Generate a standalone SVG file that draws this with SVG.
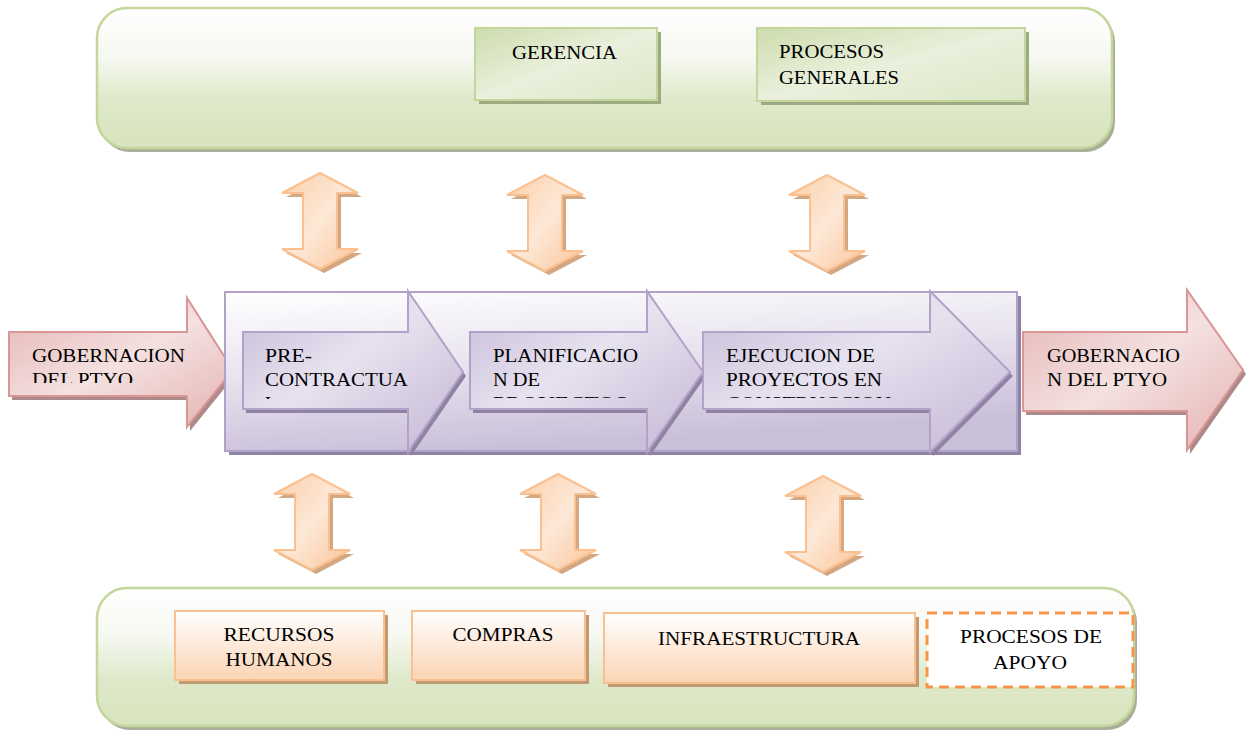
<svg xmlns="http://www.w3.org/2000/svg" width="1248" height="731" viewBox="0 0 1248 731">
<defs>
<style>
.t{font-family:"Liberation Serif","Times New Roman",Tinos,"DejaVu Serif",serif;font-size:18px;fill:#000}
.panel{stroke:#c3d69b;stroke-width:2.5}
.gbox{fill:url(#gBox);stroke:#c3d69b;stroke-width:2}
.gsh{fill:#9daa82}
.psh{fill:#a9ae99}
.obox{fill:url(#gOr);stroke:#fac090;stroke-width:2}
.osh{fill:#c29a72}
.pur{fill:url(#gPur);stroke:#b3a2c7;stroke-width:2}
.purO{fill:url(#gPurO);stroke:#b3a2c7;stroke-width:2}
.pursh{fill:#8f83a3}
.red{fill:url(#gRed);stroke:#d99694;stroke-width:2}
.redsh{fill:#ad8a89}
.da{fill:url(#gDA);stroke:#fac090;stroke-width:2}
.dash{fill:#d3a782}
</style>
<linearGradient id="gPanel" x1="0" y1="0" x2="0" y2="1">
<stop offset="0" stop-color="#ffffff"/><stop offset="0.35" stop-color="#f6f8f1"/><stop offset="0.65" stop-color="#dfe9ca"/><stop offset="1" stop-color="#d7e4bd"/>
</linearGradient>
<linearGradient id="gBox" x1="0" y1="0" x2="1" y2="1">
<stop offset="0" stop-color="#cddcae"/><stop offset="0.5" stop-color="#eaf0dc"/><stop offset="1" stop-color="#dce7c7"/>
</linearGradient>
<linearGradient id="gOr" x1="0" y1="0" x2="0" y2="1">
<stop offset="0" stop-color="#ffffff"/><stop offset="1" stop-color="#fbd4b4"/>
</linearGradient>
<linearGradient id="gPurO" x1="0" y1="0" x2="0.3" y2="1">
<stop offset="0" stop-color="#ffffff"/><stop offset="0.5" stop-color="#e8e3ef"/><stop offset="1" stop-color="#cabfd9"/>
</linearGradient>
<linearGradient id="gPur" x1="0" y1="0" x2="1" y2="1">
<stop offset="0" stop-color="#c6b9d7"/><stop offset="0.45" stop-color="#e7e2ef"/><stop offset="1" stop-color="#c3b6d4"/>
</linearGradient>
<linearGradient id="gRed" x1="0" y1="0" x2="1" y2="1">
<stop offset="0" stop-color="#e3b4b3"/><stop offset="0.5" stop-color="#f4e1e0"/><stop offset="1" stop-color="#e3b2b1"/>
</linearGradient>
<linearGradient id="gDA" x1="0" y1="0" x2="1" y2="1">
<stop offset="0" stop-color="#fbcfa8"/><stop offset="0.5" stop-color="#fde8d7"/><stop offset="1" stop-color="#fac59a"/>
</linearGradient>
<path id="dbl" d="M0,0 L38,20 L17,20 L17,76 L38,76 L0,96 L-38,76 L-17,76 L-17,20 L-38,20 Z"/>
<clipPath id="cL"><rect x="9" y="332" width="180" height="51"/></clipPath>
<clipPath id="cP1"><rect x="243" y="332" width="170" height="67"/></clipPath>
<clipPath id="cP2"><rect x="470" y="332" width="180" height="66"/></clipPath>
<clipPath id="cP3"><rect x="703" y="332" width="230" height="66"/></clipPath>
</defs>

<g id="panel-top">
<rect x="100" y="12" width="1015" height="140" rx="30" class="psh"/>
<rect x="97" y="8" width="1015" height="140" rx="30" fill="url(#gPanel)" class="panel"/>
</g>
<g id="panel-bottom">
<rect x="100" y="592" width="1037" height="138" rx="30" class="psh"/>
<rect x="97" y="588" width="1037" height="138" rx="30" fill="url(#gPanel)" class="panel"/>
</g>

<g id="gerencia">
<rect x="479" y="32" width="182" height="72" class="gsh"/>
<rect x="475" y="28" width="182" height="72" class="gbox"/>
<text class="t" x="512" y="59" textLength="105" lengthAdjust="spacingAndGlyphs">GERENCIA</text>
</g>
<g id="procesos-generales">
<rect x="761" y="32" width="268" height="73" class="gsh"/>
<rect x="757" y="28" width="268" height="73" class="gbox"/>
<text class="t" x="779" y="58" textLength="105" lengthAdjust="spacingAndGlyphs">PROCESOS</text>
<text class="t" x="779" y="84" textLength="120" lengthAdjust="spacingAndGlyphs">GENERALES</text>
</g>

<g id="recursos-humanos">
<rect x="179" y="615" width="209" height="69" class="osh"/>
<rect x="175" y="611" width="209" height="69" class="obox"/>
<text class="t" x="279" y="641" text-anchor="middle" textLength="111" lengthAdjust="spacingAndGlyphs">RECURSOS</text>
<text class="t" x="279" y="666" text-anchor="middle" textLength="107" lengthAdjust="spacingAndGlyphs">HUMANOS</text>
</g>
<g id="compras">
<rect x="416" y="615" width="173" height="69" class="osh"/>
<rect x="412" y="611" width="173" height="69" class="obox"/>
<text class="t" x="503" y="641" text-anchor="middle" textLength="101" lengthAdjust="spacingAndGlyphs">COMPRAS</text>
</g>
<g id="infraestructura">
<rect x="608" y="617" width="311" height="70" class="osh"/>
<rect x="604" y="613" width="311" height="70" class="obox"/>
<text class="t" x="759" y="645" text-anchor="middle" textLength="202" lengthAdjust="spacingAndGlyphs">INFRAESTRUCTURA</text>
</g>
<g id="procesos-apoyo">
<rect x="927" y="613" width="206" height="74" fill="#ffffff" stroke="#f79646" stroke-width="3" stroke-dasharray="10,6"/>
<text class="t" x="1031" y="643" text-anchor="middle" textLength="142" lengthAdjust="spacingAndGlyphs">PROCESOS DE</text>
<text class="t" x="1030" y="669" text-anchor="middle" textLength="74" lengthAdjust="spacingAndGlyphs">APOYO</text>
</g>

<g id="gobernacion-in">
<polygon points="12,336 190,336 190,302 236,374 190,431 190,400 12,400" class="redsh"/>
<polygon points="9,332 187,332 187,298 233,370 187,427 187,396 9,396" class="red"/>
<g clip-path="url(#cL)">
<text class="t" x="32" y="362" textLength="153" lengthAdjust="spacingAndGlyphs">GOBERNACION</text>
<text class="t" x="32" y="386" textLength="101" lengthAdjust="spacingAndGlyphs">DEL PTYO</text>
</g>
</g>

<g id="proceso-frame">
<rect x="229" y="296" width="792" height="159" class="pursh"/>
<rect x="225" y="292" width="792" height="159" class="purO"/>
</g>
<g id="precontractual">
<polygon points="246,336 411,336 411,295 466,376 411,456 411,413 246,413" class="pursh"/>
<polygon points="243,332 408,332 408,291 463,372 408,452 408,409 243,409" class="pur"/>
<g clip-path="url(#cP1)">
<text class="t" x="265" y="362" textLength="47" lengthAdjust="spacingAndGlyphs">PRE-</text>
<text class="t" x="265" y="386" textLength="143" lengthAdjust="spacingAndGlyphs">CONTRACTUA</text>
<text class="t" x="265" y="410">L</text>
</g>
</g>
<g id="planificacion">
<polygon points="473,336 650,336 650,295 706,376 650,456 650,413 473,413" class="pursh"/>
<polygon points="470,332 647,332 647,291 703,372 647,452 647,409 470,409" class="pur"/>
<g clip-path="url(#cP2)">
<text class="t" x="493" y="362" textLength="145" lengthAdjust="spacingAndGlyphs">PLANIFICACIO</text>
<text class="t" x="493" y="386" textLength="47" lengthAdjust="spacingAndGlyphs">N DE</text>
<text class="t" x="493" y="410" textLength="135" lengthAdjust="spacingAndGlyphs">PROYECTOS</text>
</g>
</g>
<g id="ejecucion">
<polygon points="706,336 933,336 933,295 1013,376 933,456 933,413 706,413" class="pursh"/>
<polygon points="703,332 930,332 930,291 1010,372 930,452 930,409 703,409" class="pur"/>
<g clip-path="url(#cP3)">
<text class="t" x="726" y="362" textLength="149" lengthAdjust="spacingAndGlyphs">EJECUCION DE</text>
<text class="t" x="726" y="386" textLength="156" lengthAdjust="spacingAndGlyphs">PROYECTOS EN</text>
<text class="t" x="726" y="410" textLength="165" lengthAdjust="spacingAndGlyphs">CONSTRUCCION</text>
</g>
</g>

<g id="gobernacion-out">
<polygon points="1026,336 1190,336 1190,294 1246,374 1190,454 1190,415 1026,415" class="redsh"/>
<polygon points="1023,332 1187,332 1187,290 1243,370 1187,450 1187,411 1023,411" class="red"/>
<text class="t" x="1047" y="362" textLength="133" lengthAdjust="spacingAndGlyphs">GOBERNACIO</text>
<text class="t" x="1047" y="386" textLength="120" lengthAdjust="spacingAndGlyphs">N DEL PTYO</text>
</g>

<g id="connectors">
<use href="#dbl" transform="translate(324,177)" class="dash"/>
<use href="#dbl" transform="translate(320,173)" class="da"/>
<use href="#dbl" transform="translate(549,179)" class="dash"/>
<use href="#dbl" transform="translate(545,175)" class="da"/>
<use href="#dbl" transform="translate(831,179)" class="dash"/>
<use href="#dbl" transform="translate(827,175)" class="da"/>
<use href="#dbl" transform="translate(316,478)" class="dash"/>
<use href="#dbl" transform="translate(312,474)" class="da"/>
<use href="#dbl" transform="translate(562,478)" class="dash"/>
<use href="#dbl" transform="translate(558,474)" class="da"/>
<use href="#dbl" transform="translate(827,480)" class="dash"/>
<use href="#dbl" transform="translate(823,476)" class="da"/>
</g>
</svg>
